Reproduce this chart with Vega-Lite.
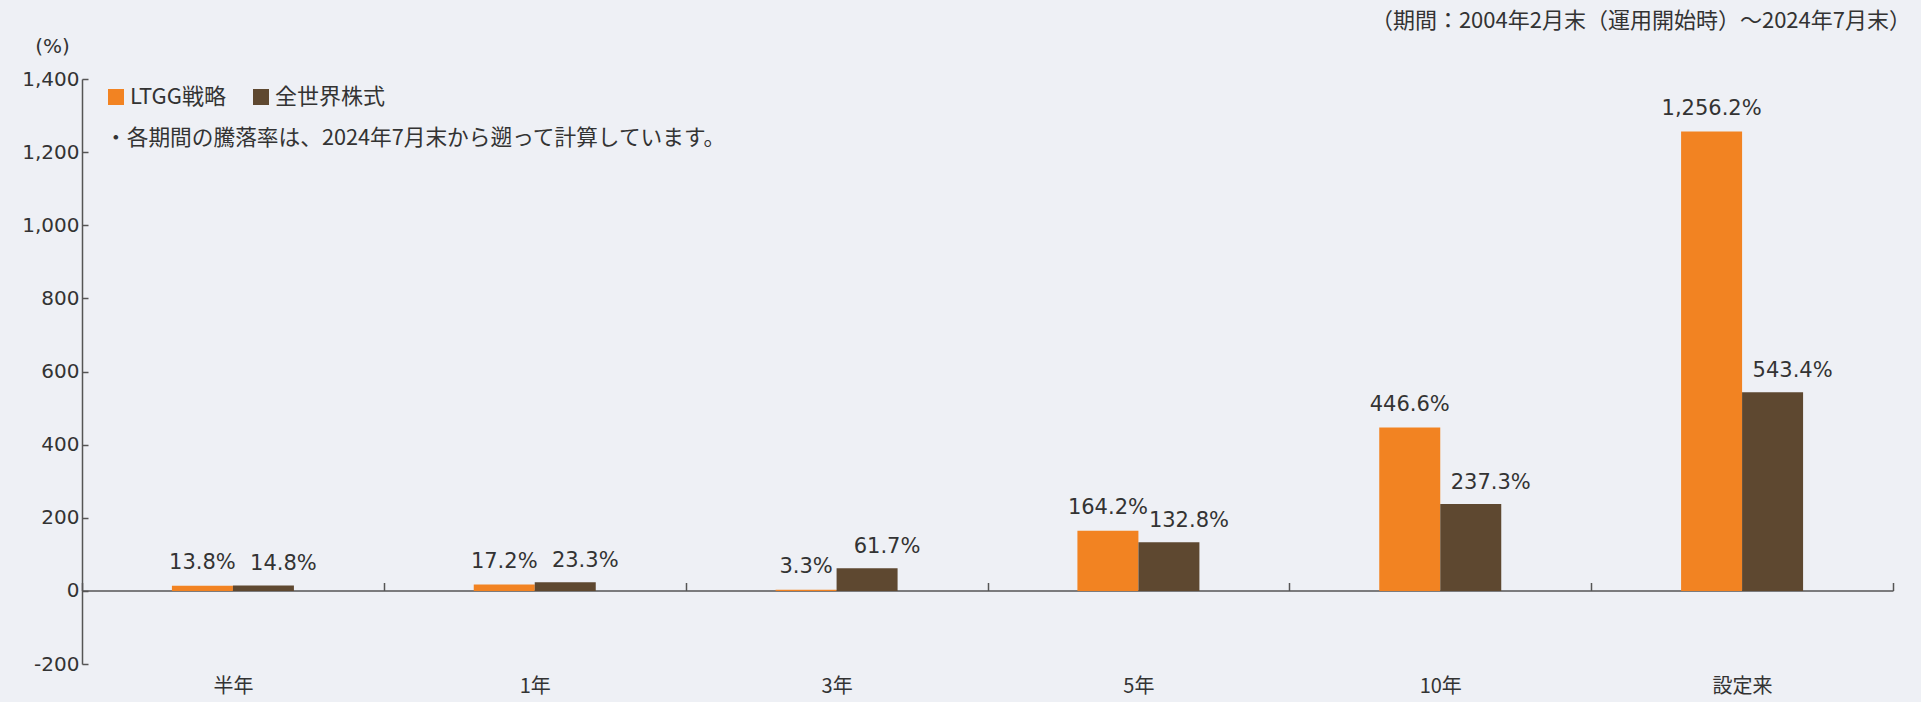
{
  "$schema": "https://vega.github.io/schema/vega-lite/v6.json",
  "width": 1811,
  "height": 585,
  "autosize": "none",
  "padding": {"left": 82, "top": 79, "right": 28, "bottom": 38},
  "background": "#eef0f5",
  "config": {
    "font": "Noto Sans CJK JP",
    "view": {"stroke": null}
  },
  "title": {
    "text": "（期間：2004年2月末（運用開始時）～2024年7月末）",
    "anchor": "end",
    "frame": "group",
    "orient": "top",
    "offset": 3,
    "dx": 18,
    "font": "Noto Sans CJK JP",
    "fontSize": 22,
    "fontWeight": "normal",
    "color": "#333333"
  },
  "data": {
    "values": [
      {"period": "半年", "series": "LTGG戦略", "value": 13.8},
      {"period": "半年", "series": "全世界株式", "value": 14.8},
      {"period": "1年", "series": "LTGG戦略", "value": 17.2},
      {"period": "1年", "series": "全世界株式", "value": 23.3},
      {"period": "3年", "series": "LTGG戦略", "value": 3.3},
      {"period": "3年", "series": "全世界株式", "value": 61.7},
      {"period": "5年", "series": "LTGG戦略", "value": 164.2},
      {"period": "5年", "series": "全世界株式", "value": 132.8},
      {"period": "10年", "series": "LTGG戦略", "value": 446.6},
      {"period": "10年", "series": "全世界株式", "value": 237.3},
      {"period": "設定来", "series": "LTGG戦略", "value": 1256.2},
      {"period": "設定来", "series": "全世界株式", "value": 543.4}
    ]
  },
  "transform": [
    {"calculate": "format(datum.value, ',.1f') + '%'", "as": "label"}
  ],
  "encoding": {
    "x": {
      "field": "period",
      "type": "nominal",
      "sort": ["半年", "1年", "3年", "5年", "10年", "設定来"],
      "scale": {"paddingInner": 0, "paddingOuter": 0},
      "axis": {
        "orient": "bottom",
        "offset": -73.5,
        "title": null,
        "domainColor": "#555555",
        "domainWidth": 1.5,
        "tickBand": "extent",
        "tickSize": -8,
        "tickColor": "#555555",
        "tickWidth": 1.5,
        "labelAngle": 0,
        "labelBaseline": "middle",
        "labelPadding": 104,
        "labelFont": "Noto Sans CJK JP",
        "labelFontSize": 20,
        "labelColor": "#333333"
      }
    },
    "xOffset": {
      "field": "series",
      "type": "nominal",
      "scale": {"domain": ["_l", "LTGG戦略", "全世界株式", "_r"], "paddingInner": 0, "paddingOuter": 0.474}
    },
    "y": {
      "field": "value",
      "type": "quantitative",
      "scale": {"domain": [-200, 1400], "nice": false},
      "axis": {
        "values": [-200, 0, 200, 400, 600, 800, 1000, 1200, 1400],
        "format": ",d",
        "labelExpr": "replace(datum.label, '−', '-')",
        "grid": false,
        "domainColor": "#555555",
        "domainWidth": 1.5,
        "tickSize": -6,
        "tickColor": "#555555",
        "tickWidth": 1.5,
        "labelFont": "DejaVu Sans",
        "labelFontSize": 20,
        "labelColor": "#333333",
        "labelPadding": 9,
        "title": "(%)",
        "titleAngle": 0,
        "titleX": -30,
        "titleY": -33,
        "titleAlign": "center",
        "titleBaseline": "middle",
        "titleFont": "DejaVu Sans",
        "titleFontSize": 20,
        "titleFontWeight": "normal",
        "titleColor": "#333333"
      }
    }
  },
  "layer": [
    {
      "mark": {"type": "bar", "opacity": 1},
      "encoding": {
        "color": {
          "field": "series",
          "type": "nominal",
          "scale": {"domain": ["LTGG戦略", "全世界株式"], "range": ["#F28322", "#5E4830"]},
          "legend": {
            "orient": "none",
            "legendX": 23,
            "legendY": 7,
            "direction": "horizontal",
            "title": "・各期間の騰落率は、2024年7月末から遡って計算しています。",
            "titleOrient": "bottom",
            "titleAnchor": "start",
            "titlePadding": 20,
            "titleFont": "Noto Sans CJK JP",
            "titleFontSize": 21.7,
            "titleFontWeight": "normal",
            "titleColor": "#333333",
            "titleLimit": 1200,
            "symbolType": "square",
            "symbolSize": 256,
            "symbolStrokeWidth": 0,
            "symbolOpacity": 1,
            "labelFont": "Noto Sans CJK JP",
            "labelFontSize": 22,
            "labelColor": "#333333",
            "labelOffset": 3,
            "columnPadding": 24,
            "padding": 0
          }
        }
      }
    },
    {
      "transform": [{"filter": "datum.series === 'LTGG戦略'"}],
      "mark": {"type": "text", "font": "DejaVu Sans", "fontSize": 21, "color": "#333333", "baseline": "alphabetic", "dy": -17},
      "encoding": {
        "text": {"field": "label"}
      }
    },
    {
      "transform": [{"filter": "datum.series === '全世界株式'"}],
      "mark": {"type": "text", "font": "DejaVu Sans", "fontSize": 21, "color": "#333333", "baseline": "alphabetic", "dy": -15, "dx": 20},
      "encoding": {
        "text": {"field": "label"}
      }
    }
  ]
}
